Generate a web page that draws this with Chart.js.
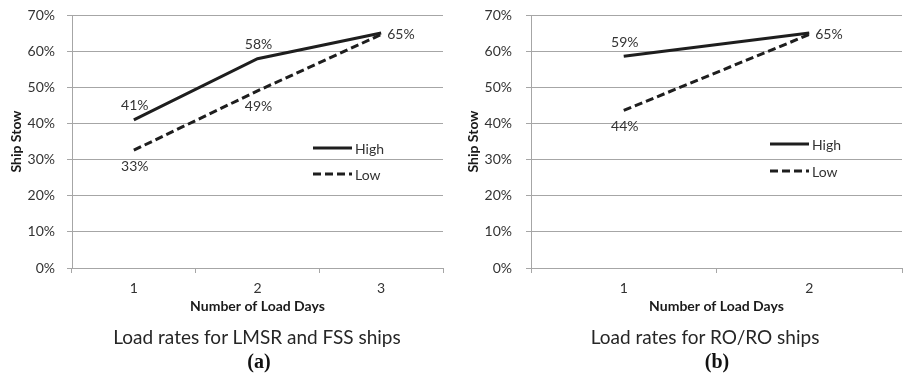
<!DOCTYPE html>
<html>
<head>
<meta charset="utf-8">
<script src="https://cdn.jsdelivr.net/npm/chart.js@4.4.1/dist/chart.umd.min.js"></script>
<style>
  html, body { margin: 0; padding: 0; background: #fff; }
  #wrap { position: relative; width: 905px; height: 381px; overflow: hidden; }
  .cv { position: absolute; top: 0; }
  .cap { position: absolute; transform: translateX(-50%); white-space: nowrap; color: #262626; }
  .sub { font-family: Lato, "Open Sans", sans-serif; font-size: 19px; }
  .tag { font-family: "Liberation Serif", "DejaVu Serif", serif; font-weight: bold; font-size: 20px; color: #111; }
</style>
</head>
<body>
<div id="wrap">
  <div class="cv" style="left:0;width:455px;height:381px;"><canvas id="chartA"></canvas></div>
  <div class="cv" style="left:455px;width:450px;height:381px;"><canvas id="chartB"></canvas></div>
  <div class="cap sub" style="left:257px;top:325px;">Load rates for LMSR and FSS ships</div>
  <div class="cap tag" style="left:259px;top:350px;">(a)</div>
  <div class="cap sub" style="left:705px;top:325px;">Load rates for RO/RO ships</div>
  <div class="cap tag" style="left:717px;top:350px;">(b)</div>
</div>
<script>
// ---- data ----
const daysA = ['1', '2', '3'];
const highA = [41, 57.9, 65];
const lowA = [32.6, 49, 64.6];

const daysB = ['1', '2'];
const highB = [58.6, 65];
const lowB = [43.6, 64.6];

const seriesNames = ['High', 'Low'];
const yTitle = 'Ship Stow';
const xTitle = 'Number of Load Days';

// ---- styling ----
const LINE = '#1e1e1e';
const GRID = '#a6a6a6';
const TXT = '#333333';
const FONT = 'Lato, "Open Sans", sans-serif';

const pointLabels = {
  id: 'pointLabels',
  afterDatasetsDraw(chart) {
    const ctx = chart.ctx;
    ctx.save();
    ctx.font = '14px ' + FONT;
    ctx.fillStyle = TXT;
    chart.data.datasets.forEach((ds, i) => {
      const meta = chart.getDatasetMeta(i);
      meta.data.forEach((pt, j) => {
        const last = j === meta.data.length - 1;
        if (last && i === 1) return;
        const txt = Math.round(ds.data[j]) + '%';
        ctx.textBaseline = 'middle';
        if (last) {
          ctx.textAlign = 'left';
          ctx.fillText(txt, pt.x + 6, pt.y + 1);
        } else if (i === 0) {
          ctx.textAlign = 'center';
          ctx.fillText(txt, pt.x + 1, pt.y - 14);
        } else {
          ctx.textAlign = 'center';
          ctx.fillText(txt, pt.x + 1, pt.y + 16);
        }
      });
    });
    ctx.restore();
  }
};

const insetLegend = {
  id: 'insetLegend',
  afterDraw(chart, args, opts) {
    const ctx = chart.ctx;
    const area = chart.chartArea;
    ctx.save();
    ctx.font = '14px ' + FONT;
    ctx.fillStyle = TXT;
    ctx.textAlign = 'left';
    ctx.textBaseline = 'middle';
    chart.data.datasets.forEach((ds, i) => {
      const x0 = area.right - opts.dx;
      const y = area.top + opts.dy + i * opts.gap;
      ctx.strokeStyle = ds.borderColor;
      ctx.lineWidth = ds.borderWidth;
      ctx.setLineDash(ds.borderDash || []);
      ctx.beginPath();
      ctx.moveTo(x0, y);
      ctx.lineTo(x0 + 39, y);
      ctx.stroke();
      ctx.setLineDash([]);
      ctx.fillText(ds.label, x0 + 42, y + 1);
    });
    ctx.restore();
  }
};

function makeChart(id, labels, high, low, legendOpts, pad, yPad, yWidth) {
  return new Chart(document.getElementById(id), {
    type: 'line',
    data: {
      labels: labels,
      datasets: [
        { label: seriesNames[0], data: high, borderColor: LINE, borderWidth: 3, pointRadius: 0, tension: 0, fill: false },
        { label: seriesNames[1], data: low, borderColor: LINE, borderWidth: 3, borderDash: [8, 4], pointRadius: 0, tension: 0, fill: false }
      ]
    },
    options: {
      responsive: true,
      maintainAspectRatio: false,
      animation: false,
      layout: { padding: pad },
      plugins: {
        legend: { display: false },
        tooltip: { enabled: false },
        insetLegend: legendOpts
      },
      scales: {
        x: {
          offset: true,
          grid: { offset: true, drawOnChartArea: false, color: GRID, tickLength: 5 },
          border: { color: GRID },
          ticks: { color: TXT, font: { family: FONT, size: 14 }, padding: 7, maxRotation: 0 },
          title: { display: true, text: xTitle, color: '#1a1a1a', font: { family: FONT, size: 14, weight: 'bold' }, padding: { top: 0, bottom: 0 } },
          afterFit: s => { s.height = 47; s.paddingLeft = 0; s.paddingRight = 0; }
        },
        y: {
          min: 0, max: 70,
          ticks: { stepSize: 10, color: TXT, font: { family: FONT, size: 14 }, padding: yPad, callback: v => v + '%' },
          grid: { color: GRID, tickLength: 5 },
          border: { color: GRID },
          title: { display: true, text: yTitle, color: '#1a1a1a', font: { family: FONT, size: 14, weight: 'bold' }, padding: { top: 0, bottom: 0 } },
          afterFit: s => { s.width = yWidth; s.paddingTop = 0; s.paddingBottom = 0; }
        }
      }
    },
    plugins: [pointLabels, insetLegend]
  });
}

makeChart('chartA', daysA, highA, lowA, { dx: 130, dy: 133, gap: 26 }, { left: 8, right: 12, top: 15, bottom: 66 }, 12, 64);
makeChart('chartB', daysB, highB, lowB, { dx: 132, dy: 129, gap: 27 }, { left: 10, right: 3, top: 15, bottom: 66 }, 14, 66);
</script>
</body>
</html>
